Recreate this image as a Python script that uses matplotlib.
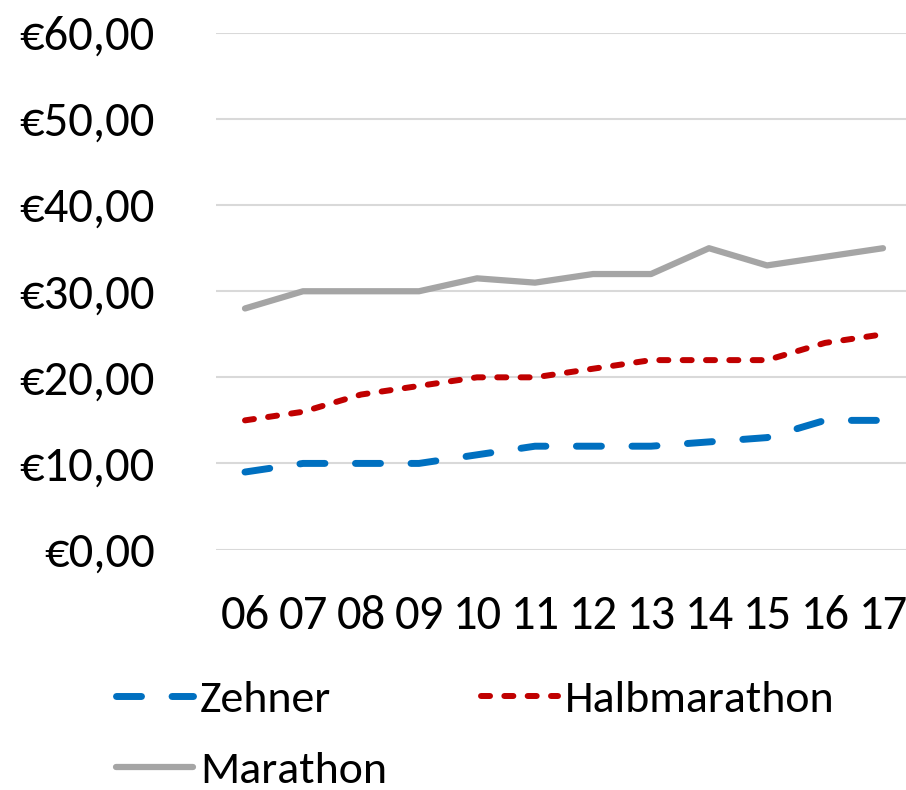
import matplotlib
matplotlib.use("Agg")
import matplotlib.pyplot as plt
from matplotlib import font_manager as fm

names = {f.name for f in fm.fontManager.ttflist}
fam = 'Carlito' if 'Carlito' in names else 'Lato'
plt.rcParams['font.family'] = [fam, 'DejaVu Sans']
plt.rcParams['lines.scale_dashes'] = False

years = ["06", "07", "08", "09", "10", "11", "12", "13", "14", "15", "16", "17"]
zehner = [9, 10, 10, 10, 11, 12, 12, 12, 12.5, 13, 15, 15]
halbmarathon = [15, 16, 18, 19, 20, 20, 21, 22, 22, 22, 24, 25]
marathon = [28, 30, 30, 30, 31.5, 31, 32, 32, 35, 33, 34, 35]
yticks = [0, 10, 20, 30, 40, 50, 60]
ytick_labels = ["€0,00", "€10,00", "€20,00", "€30,00", "€40,00", "€50,00", "€60,00"]

FS = 35
LFS = 33

fig = plt.figure(figsize=(9.06, 7.90), dpi=100)
ax = fig.add_axes([216/906, 1-549.5/790, 696/906, (549.5-33)/790])

x = list(range(len(years)))
lz, = ax.plot(x, zehner, color='#0070C0', lw=5.0, label='Zehner',
              linestyle=(0, (18, 22)),
              dash_capstyle='round', solid_capstyle='round')
lh, = ax.plot(x, halbmarathon, color='#C00000', lw=4.3, label='Halbmarathon',
              linestyle=(0, (6.5, 10.3)),
              dash_capstyle='round', solid_capstyle='round')
lm, = ax.plot(x, marathon, color='#A5A5A5', lw=4.5, label='Marathon',
              solid_capstyle='round')

ax.set_xlim(-0.5, len(years) - 0.5)
ax.set_ylim(0, 60)
ax.set_yticks(yticks)
ax.set_yticklabels(ytick_labels)
ax.set_xticks(x)
ax.set_xticklabels(years)
ax.tick_params(axis='both', length=0, labelsize=FS)
ax.tick_params(axis='y', pad=44)
ax.tick_params(axis='x', pad=33)
for s in ax.spines.values():
    s.set_visible(False)
ax.grid(axis='y', color='#D9D9D9', lw=1.5)
ax.set_axisbelow(True)

fig.legend([lz, lm, lh], ['Zehner', 'Marathon', 'Halbmarathon'], ncol=2,
           loc='upper left', bbox_to_anchor=(116/906, 1-680/790),
           frameon=False, fontsize=LFS, handlelength=1.68, handletextpad=0.15,
           columnspacing=2.06, labelspacing=0.7, borderpad=0, borderaxespad=0)

fig.savefig('out.png', dpi=100)
